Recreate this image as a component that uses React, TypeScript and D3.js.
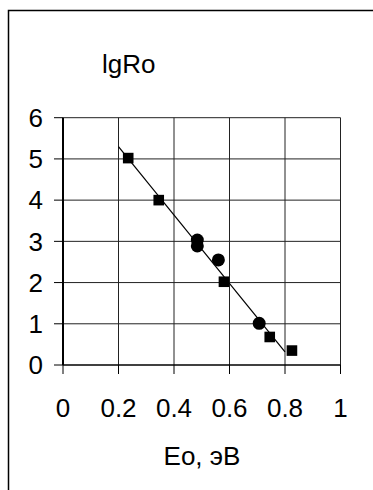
import React from "react";
import * as d3 from "d3";

const xTicks = [0, 0.2, 0.4, 0.6, 0.8, 1];
const yTicks = [0, 1, 2, 3, 4, 5, 6];
const xTickLabels = ["0", "0.2", "0.4", "0.6", "0.8", "1"];
const yTickLabels = ["0", "1", "2", "3", "4", "5", "6"];

const squaresX = [0.235, 0.345, 0.58, 0.745, 0.825];
const squaresY = [5.02, 4.0, 2.02, 0.68, 0.35];
const circlesX = [0.484, 0.484, 0.56, 0.707];
const circlesY = [3.03, 2.89, 2.55, 1.01];
const trendX = [0.2, 0.8];
const trendY = [5.3, 0.32];

const yTitle = "lgRo";
const xTitle = "Eo, эВ";

const W = 373;
const H = 490;
const font = "'Liberation Sans', Arial, sans-serif";

export default function App() {
  const x = d3.scaleLinear().domain([0, 1]).range([63, 340.5]);
  const y = d3.scaleLinear().domain([0, 6]).range([365, 117.7]);
  const line = d3
    .line<number>()
    .x((d) => x(trendX[d]))
    .y((d) => y(trendY[d]));
  const fs = 26;
  return (
    <svg
      width={W}
      height={H}
      style={{ position: "absolute", left: 0, top: 0, background: "#fff" }}
    >
      <rect x={0} y={0} width={W} height={H} fill="#fff" />
      {/* outer frame */}
      <path d={`M8.5,${H} V10.5 H${W}`} fill="none" stroke="#000" strokeWidth={1.5} />
      {/* grid */}
      {xTicks.slice(1).map((t, i) => (
        <line key={"gx" + i} x1={x(t)} x2={x(t)} y1={y(6)} y2={y(0)} stroke="#222" strokeWidth={1} />
      ))}
      {yTicks.slice(1).map((t, i) => (
        <line key={"gy" + i} x1={x(0)} x2={x(1)} y1={y(t)} y2={y(t)} stroke="#222" strokeWidth={1} />
      ))}
      {/* axes */}
      <line x1={x(0)} x2={x(0)} y1={y(6)} y2={y(0)} stroke="#000" strokeWidth={2} />
      <line x1={x(0)} x2={x(1)} y1={y(0)} y2={y(0)} stroke="#000" strokeWidth={1.5} />
      {yTicks.map((t, i) => (
        <line key={"ty" + i} x1={x(0) - 9} x2={x(0)} y1={y(t)} y2={y(t)} stroke="#000" strokeWidth={1} />
      ))}
      {xTicks.map((t, i) => (
        <line key={"tx" + i} x1={x(t)} x2={x(t)} y1={y(0)} y2={y(0) + 9} stroke="#000" strokeWidth={1} />
      ))}
      {/* tick labels */}
      {yTicks.map((t, i) => (
        <text
          key={"ly" + i}
          x={43}
          y={y(t)}
          dy="0.36em"
          textAnchor="end"
          fontFamily={font}
          fontSize={fs}
          fill="#000"
        >
          {yTickLabels[i]}
        </text>
      ))}
      {xTicks.map((t, i) => (
        <text
          key={"lx" + i}
          x={x(t)}
          y={417}
          textAnchor="middle"
          fontFamily={font}
          fontSize={fs}
          fill="#000"
        >
          {xTickLabels[i]}
        </text>
      ))}
      {/* titles */}
      <text x={102} y={73} fontFamily={font} fontSize={fs} fill="#000">
        {yTitle}
      </text>
      <text x={202} y={465} textAnchor="middle" fontFamily={font} fontSize={fs} fill="#000">
        {xTitle}
      </text>
      {/* trend line */}
      <path d={line(d3.range(trendX.length)) || ""} fill="none" stroke="#000" strokeWidth={1.2} />
      {/* markers */}
      {squaresX.map((v, i) => (
        <rect key={"s" + i} x={x(v) - 5.3} y={y(squaresY[i]) - 5.3} width={10.6} height={10.6} fill="#000" />
      ))}
      {circlesX.map((v, i) => (
        <circle key={"c" + i} cx={x(v)} cy={y(circlesY[i])} r={6.5} fill="#000" />
      ))}
    </svg>
  );
}
